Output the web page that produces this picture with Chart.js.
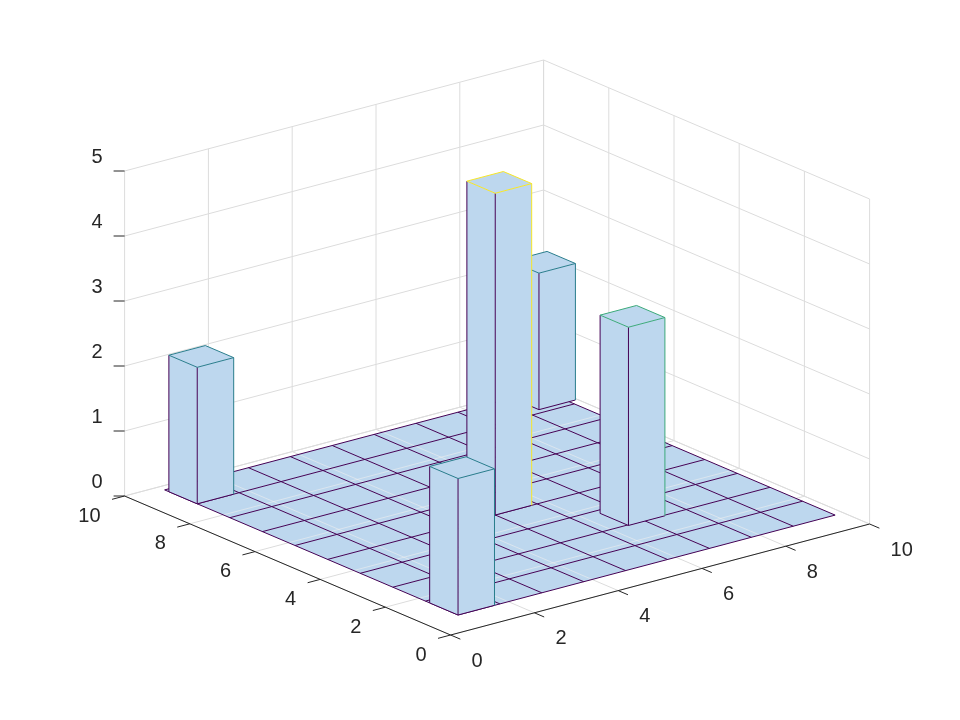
<!DOCTYPE html>
<html><head><meta charset="utf-8">
<script src="https://cdn.jsdelivr.net/npm/chart.js@4"></script>
<style>html,body{margin:0;padding:0;background:#fff}canvas{display:block}</style>
</head><body>
<canvas id="c" width="960" height="720"></canvas>
<script>
const xTicks=[0,2,4,6,8,10];
const yTicks=[0,2,4,6,8,10];
const zTicks=[0,1,2,3,4,5];
const floorStart=0.8, floorCells=9;
const barX=[0.8,0.8,4.8,9.08,6.4];
const barY=[0.8,8.8,4.8,8.96,2.77];
const barH=[2.1,2.1,4.95,2.1,3.05];
const barW=0.87;

const FACE='#bdd7ee', DARK='#440154';
function viridis(t){const s=[[68,1,84],[59,82,139],[33,145,140],[94,201,98],[253,231,37]];
 t=Math.max(0,Math.min(1,t))*4;const i=Math.min(3,Math.floor(t)),f=t-i;
 const c=s[i].map((v,k)=>Math.round(v+(s[i+1][k]-v)*f));return `rgb(${c})`;}

const proj={ox:450.6,oy:635,ux:[41.9,-11.1],uy:[-32.6,-13.9],uz:65};
function P(ch,x,y,z){
 const sx=proj.ox+proj.ux[0]*x+proj.uy[0]*y;
 const sy=proj.oy+proj.ux[1]*x+proj.uy[1]*y-proj.uz*z;
 return [ch.scales.x.getPixelForValue(sx),ch.scales.y.getPixelForValue(sy)];
}
const plug={id:'bar3',afterDraw(ch){
 const c=ch.ctx;c.save();
 const line=(a,b,col,w)=>{c.beginPath();c.moveTo(a[0],a[1]);c.lineTo(b[0],b[1]);c.strokeStyle=col;c.lineWidth=w||1;c.stroke();};
 const poly=(pts,fill,stroke)=>{c.beginPath();pts.forEach((p,i)=>i?c.lineTo(p[0],p[1]):c.moveTo(p[0],p[1]));c.closePath();if(fill){c.fillStyle=fill;c.fill();}if(stroke){c.strokeStyle=stroke;c.lineWidth=1;c.stroke();}};
 const G='#dcdcdc';const zm=zTicks[zTicks.length-1],xm=xTicks[xTicks.length-1],ym=yTicks[yTicks.length-1];
 // walls
 xTicks.forEach(x=>line(P(ch,x,ym,0),P(ch,x,ym,zm),G));
 zTicks.forEach(z=>line(P(ch,0,ym,z),P(ch,xm,ym,z),G));
 yTicks.forEach(y=>line(P(ch,xm,y,0),P(ch,xm,y,zm),G));
 zTicks.forEach(z=>line(P(ch,xm,0,z),P(ch,xm,ym,z),G));
 xTicks.forEach(x=>line(P(ch,x,0,0),P(ch,x,ym,0),G));
 yTicks.forEach(y=>line(P(ch,0,y,0),P(ch,xm,y,0),G));
 // floor
 for(let i=0;i<floorCells;i++)for(let j=0;j<floorCells;j++){
  const x0=floorStart+i,y0=floorStart+j;
  poly([P(ch,x0,y0,0),P(ch,x0+1,y0,0),P(ch,x0+1,y0+1,0),P(ch,x0,y0+1,0)],FACE,null);
 }
 c.globalAlpha=0.6;
 xTicks.forEach(x=>{if(x>floorStart&&x<floorStart+floorCells)line(P(ch,x,floorStart,0),P(ch,x,floorStart+floorCells,0),'#eeeeee');});
 yTicks.forEach(y=>{if(y>floorStart&&y<floorStart+floorCells)line(P(ch,floorStart,y,0),P(ch,floorStart+floorCells,y,0),'#eeeeee');});
 c.globalAlpha=1;
 for(let k=0;k<=floorCells;k++){
  line(P(ch,floorStart+k,floorStart,0),P(ch,floorStart+k,floorStart+floorCells,0),DARK);
  line(P(ch,floorStart,floorStart+k,0),P(ch,floorStart+floorCells,floorStart+k,0),DARK);
 }
 // bars back to front
 const idx=barX.map((_,i)=>i).sort((a,b)=>(barX[b]+barY[b])-(barX[a]+barY[a]));
 idx.forEach(i=>{
  const x0=barX[i],y0=barY[i],x1=x0+barW,y1=y0+barW,h=barH[i];
  const col=viridis(h/zm);
  const a=P(ch,x0,y0,0),b=P(ch,x1,y0,0),d=P(ch,x0,y1,0);
  const A=P(ch,x0,y0,h),B=P(ch,x1,y0,h),C=P(ch,x1,y1,h),D=P(ch,x0,y1,h);
  poly([a,b,B,A],FACE,null);poly([a,d,D,A],FACE,null);poly([A,B,C,D],FACE,null);
  line(a,b,DARK);line(a,d,DARK);line(a,A,DARK);line(d,D,DARK);line(b,B,col);
  line(A,B,col);line(B,C,col);line(C,D,col);line(D,A,col);
 });
 // axes
 const K='#262626';
 line(P(ch,0,0,0),P(ch,xm,0,0),K);line(P(ch,0,0,0),P(ch,0,ym,0),K);
 c.font='20px "Liberation Sans", Arial, sans-serif';c.fillStyle=K;
 xTicks.forEach(x=>{const p=P(ch,x,0,0),q=P(ch,x,-0.3,0);line(p,q,K);c.textAlign='left';c.textBaseline='middle';c.fillText(String(x),p[0]+21,p[1]+26);});
 yTicks.forEach(y=>{const p=P(ch,0,y,0),q=P(ch,-0.3,y,0);line(p,q,K);c.textAlign='right';c.textBaseline='middle';c.fillText(String(y),p[0]-24,p[1]+20);});
 zTicks.forEach(z=>{const p=P(ch,0,ym,z);line(p,[p[0]-11,p[1]],K);c.textAlign='right';c.textBaseline='middle';c.fillText(String(z),p[0]-22,p[1]-14);});
 c.restore();
}};
new Chart(document.getElementById('c'),{type:'scatter',data:{datasets:[{data:[]}]},
 options:{responsive:false,animation:false,layout:{padding:0},
  plugins:{legend:{display:false},tooltip:{enabled:false}},
  scales:{x:{type:'linear',min:0,max:960,display:false},y:{type:'linear',min:0,max:720,reverse:true,display:false}}},
 plugins:[plug]});
</script></body></html>
